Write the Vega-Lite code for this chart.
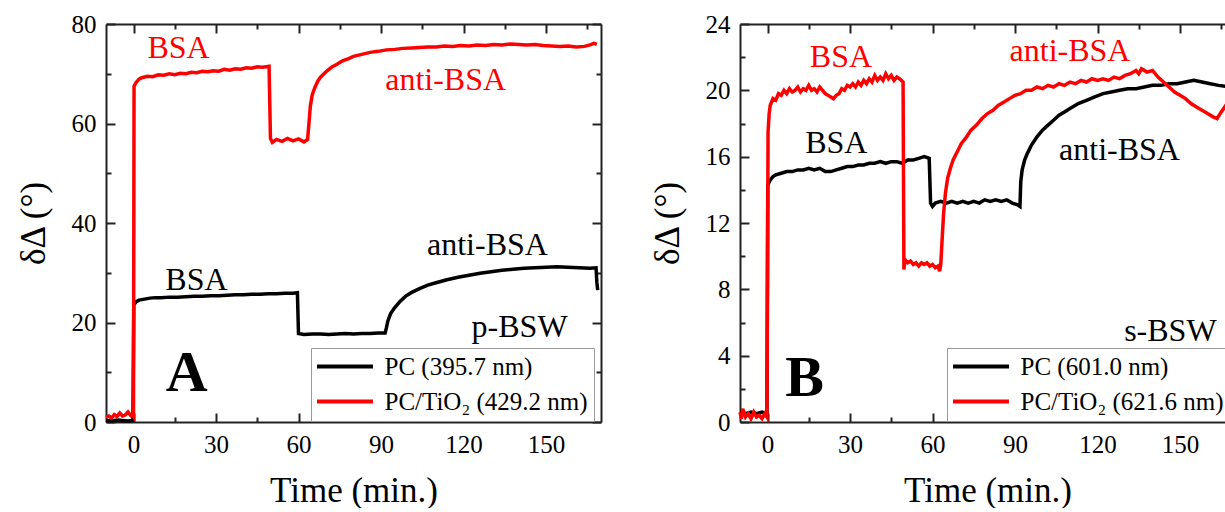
{
 "$schema": "https://vega.github.io/schema/vega-lite/v6.json",
 "background": "white",
 "padding": {"left": 16, "top": 12, "right": 0, "bottom": 0},
 "spacing": 45,
 "config": {
  "font": "Liberation Serif, Times New Roman, serif",
  "view": {"stroke": null},
  "text": {"font": "Liberation Serif, Times New Roman, serif"},
  "axis": {"grid": false, "domainColor": "#222", "domainWidth": 2, "tickColor": "#222", "tickWidth": 2, "labelFont": "Liberation Serif, Times New Roman, serif", "labelFontSize": 25, "labelColor": "black", "titleFont": "Liberation Serif, Times New Roman, serif", "titleFontSize": 35, "titleFontWeight": "normal", "titleColor": "black", "labelFlush": false, "labelOverlap": false, "labelBound": false},
  "legend": {"labelFont": "Liberation Serif, Times New Roman, serif"}
 },
 "datasets": {
  "blackA": [{"t":-10,"v":0.3},{"t":-8,"v":0.2},{"t":-6,"v":0.4},{"t":-4,"v":0.3},{"t":-2,"v":0.2},{"t":-0.2,"v":0.3},{"t":0.1,"v":23.5},{"t":1,"v":24.2},{"t":2,"v":24.5},{"t":4,"v":24.7},{"t":6,"v":24.9},{"t":8,"v":25.0},{"t":10,"v":25.0},{"t":13,"v":25.1},{"t":16,"v":25.1},{"t":19,"v":25.2},{"t":22,"v":25.3},{"t":25,"v":25.3},{"t":28,"v":25.4},{"t":31,"v":25.4},{"t":34,"v":25.5},{"t":37,"v":25.6},{"t":40,"v":25.6},{"t":43,"v":25.7},{"t":46,"v":25.7},{"t":49,"v":25.8},{"t":52,"v":25.8},{"t":55,"v":25.9},{"t":58,"v":25.9},{"t":59.6,"v":26.0},{"t":60,"v":17.8},{"t":62,"v":17.6},{"t":65,"v":17.7},{"t":68,"v":17.7},{"t":71,"v":17.6},{"t":74,"v":17.7},{"t":77,"v":17.8},{"t":80,"v":17.7},{"t":83,"v":17.8},{"t":86,"v":17.8},{"t":89,"v":17.9},{"t":91.5,"v":17.9},{"t":92,"v":19.0},{"t":92.5,"v":20.3},{"t":93.5,"v":21.8},{"t":95,"v":23.0},{"t":97,"v":24.3},{"t":99,"v":25.3},{"t":101,"v":26.0},{"t":104,"v":26.8},{"t":107,"v":27.5},{"t":110,"v":28.0},{"t":114,"v":28.6},{"t":118,"v":29.1},{"t":122,"v":29.5},{"t":126,"v":29.9},{"t":130,"v":30.2},{"t":134,"v":30.5},{"t":138,"v":30.7},{"t":142,"v":30.9},{"t":146,"v":31.0},{"t":150,"v":31.1},{"t":154,"v":31.2},{"t":158,"v":31.1},{"t":162,"v":31.0},{"t":166,"v":30.9},{"t":168.2,"v":31.0},{"t":168.5,"v":28.0},{"t":168.8,"v":26.5}],
  "redA": [{"t":-10,"v":1.0},{"t":-9,"v":1.2},{"t":-8,"v":0.8},{"t":-7,"v":1.5},{"t":-6,"v":1.1},{"t":-5,"v":1.8},{"t":-4,"v":1.2},{"t":-3,"v":1.4},{"t":-2,"v":2.0},{"t":-1,"v":1.3},{"t":-0.3,"v":1.5},{"t":0,"v":1.2},{"t":0.2,"v":67.5},{"t":1,"v":68.3},{"t":2,"v":68.9},{"t":3,"v":69.2},{"t":5,"v":69.5},{"t":7,"v":69.4},{"t":9,"v":69.8},{"t":11,"v":69.7},{"t":13,"v":70.0},{"t":15,"v":69.8},{"t":17,"v":70.1},{"t":19,"v":70.0},{"t":21,"v":70.3},{"t":23,"v":70.2},{"t":25,"v":70.5},{"t":27,"v":70.4},{"t":29,"v":70.6},{"t":31,"v":70.5},{"t":33,"v":70.9},{"t":35,"v":70.7},{"t":37,"v":71.0},{"t":39,"v":70.9},{"t":41,"v":71.2},{"t":43,"v":71.1},{"t":45,"v":71.4},{"t":47,"v":71.3},{"t":49.3,"v":71.5},{"t":49.8,"v":57.0},{"t":50.5,"v":56.2},{"t":52,"v":56.8},{"t":54,"v":56.4},{"t":56,"v":57.0},{"t":58,"v":56.5},{"t":60,"v":56.9},{"t":62,"v":56.3},{"t":63.3,"v":56.8},{"t":63.8,"v":60.0},{"t":64.3,"v":63.5},{"t":65,"v":65.8},{"t":66,"v":67.3},{"t":67,"v":68.5},{"t":68,"v":69.3},{"t":70,"v":70.4},{"t":72,"v":71.3},{"t":74,"v":71.9},{"t":76,"v":72.6},{"t":78,"v":73.0},{"t":80,"v":73.5},{"t":83,"v":73.9},{"t":86,"v":74.3},{"t":89,"v":74.5},{"t":92,"v":74.8},{"t":95,"v":74.9},{"t":98,"v":75.1},{"t":101,"v":75.2},{"t":104,"v":75.3},{"t":107,"v":75.4},{"t":110,"v":75.4},{"t":113,"v":75.6},{"t":116,"v":75.5},{"t":119,"v":75.7},{"t":122,"v":75.6},{"t":125,"v":75.8},{"t":128,"v":75.7},{"t":131,"v":75.9},{"t":134,"v":75.8},{"t":137,"v":76.0},{"t":140,"v":75.9},{"t":143,"v":75.8},{"t":146,"v":75.9},{"t":149,"v":75.7},{"t":152,"v":75.6},{"t":155,"v":75.5},{"t":158,"v":75.6},{"t":161,"v":75.4},{"t":164,"v":75.5},{"t":166,"v":75.8},{"t":167.5,"v":76.1},{"t":168.5,"v":75.9}],
  "labelsA": [{"t":16.4,"v":75.2,"label":"BSA","c":"#ff0000"},{"t":113.5,"v":68.7,"label":"anti-BSA","c":"#ff0000"},{"t":22.9,"v":28.5,"label":"BSA","c":"black"},{"t":128.7,"v":35.6,"label":"anti-BSA","c":"black"},{"t":140.4,"v":19.1,"label":"p-BSW","c":"black"}],
  "letterA": [{"t":19.3,"v":9.6,"label":"A"}],
  "blackB": [{"t":-10,"v":0.6},{"t":-8,"v":0.5},{"t":-6,"v":0.6},{"t":-4,"v":0.5},{"t":-2,"v":0.6},{"t":-0.2,"v":0.5},{"t":0.1,"v":14.3},{"t":1,"v":14.6},{"t":2,"v":14.8},{"t":3,"v":14.9},{"t":5,"v":15.0},{"t":7,"v":15.1},{"t":9,"v":15.1},{"t":11,"v":15.2},{"t":13,"v":15.2},{"t":15,"v":15.3},{"t":17,"v":15.2},{"t":19,"v":15.3},{"t":21,"v":15.1},{"t":23,"v":15.1},{"t":25,"v":15.2},{"t":27,"v":15.3},{"t":29,"v":15.4},{"t":31,"v":15.4},{"t":33,"v":15.5},{"t":35,"v":15.5},{"t":37,"v":15.6},{"t":39,"v":15.6},{"t":41,"v":15.7},{"t":43,"v":15.6},{"t":45,"v":15.7},{"t":47,"v":15.7},{"t":49,"v":15.6},{"t":51,"v":15.8},{"t":53,"v":15.8},{"t":55,"v":15.9},{"t":57,"v":16.0},{"t":58.8,"v":15.9},{"t":59.3,"v":13.2},{"t":60,"v":13.0},{"t":61,"v":13.2},{"t":63,"v":13.3},{"t":65,"v":13.2},{"t":67,"v":13.3},{"t":69,"v":13.2},{"t":71,"v":13.3},{"t":73,"v":13.2},{"t":75,"v":13.3},{"t":77,"v":13.2},{"t":79,"v":13.4},{"t":81,"v":13.3},{"t":83,"v":13.4},{"t":85,"v":13.3},{"t":87,"v":13.4},{"t":89,"v":13.2},{"t":91,"v":13.1},{"t":91.8,"v":13.0},{"t":92.1,"v":14.5},{"t":92.6,"v":15.2},{"t":93.5,"v":15.8},{"t":94.5,"v":16.2},{"t":96,"v":16.7},{"t":98,"v":17.2},{"t":100,"v":17.6},{"t":102,"v":17.9},{"t":104,"v":18.2},{"t":106,"v":18.5},{"t":108,"v":18.7},{"t":110,"v":18.9},{"t":113,"v":19.2},{"t":116,"v":19.4},{"t":119,"v":19.6},{"t":122,"v":19.8},{"t":125,"v":19.9},{"t":128,"v":20.0},{"t":131,"v":20.1},{"t":134,"v":20.1},{"t":137,"v":20.2},{"t":140,"v":20.3},{"t":143,"v":20.3},{"t":146,"v":20.4},{"t":149,"v":20.4},{"t":152,"v":20.5},{"t":155,"v":20.6},{"t":158,"v":20.5},{"t":161,"v":20.4},{"t":164,"v":20.3},{"t":168,"v":20.2}],
  "redB": [{"t":-10,"v":0.6},{"t":-9.5,"v":0.2},{"t":-9,"v":0.8},{"t":-8,"v":0.3},{"t":-7,"v":0.5},{"t":-6,"v":0.2},{"t":-5,"v":0.6},{"t":-4,"v":0.3},{"t":-3,"v":0.4},{"t":-2,"v":0.2},{"t":-1,"v":0.5},{"t":-0.2,"v":0.3},{"t":0.2,"v":17.5},{"t":0.6,"v":18.6},{"t":1,"v":19.1},{"t":2,"v":19.5},{"t":3,"v":19.4},{"t":4,"v":19.8},{"t":5,"v":19.7},{"t":6,"v":20.0},{"t":7,"v":19.8},{"t":8,"v":20.1},{"t":9,"v":19.9},{"t":10,"v":20.0},{"t":11,"v":20.2},{"t":12,"v":19.9},{"t":13,"v":20.1},{"t":14,"v":20.0},{"t":15,"v":20.3},{"t":16,"v":20.0},{"t":17,"v":20.1},{"t":18,"v":19.9},{"t":19,"v":20.2},{"t":20,"v":20.0},{"t":21,"v":19.8},{"t":22,"v":19.7},{"t":23,"v":19.6},{"t":24,"v":19.5},{"t":25,"v":19.7},{"t":26,"v":19.8},{"t":27,"v":20.1},{"t":28,"v":20.0},{"t":29,"v":20.3},{"t":30,"v":20.2},{"t":31,"v":20.4},{"t":32,"v":20.2},{"t":33,"v":20.5},{"t":34,"v":20.3},{"t":35,"v":20.6},{"t":36,"v":20.4},{"t":37,"v":20.7},{"t":38,"v":20.5},{"t":39,"v":20.9},{"t":40,"v":20.6},{"t":41,"v":20.8},{"t":42,"v":20.6},{"t":43,"v":21.0},{"t":44,"v":20.7},{"t":45,"v":20.9},{"t":46,"v":20.6},{"t":47,"v":20.8},{"t":48,"v":20.7},{"t":49.3,"v":20.5},{"t":49.6,"v":9.2},{"t":50,"v":9.8},{"t":51,"v":9.6},{"t":52,"v":9.7},{"t":53,"v":9.5},{"t":54,"v":9.6},{"t":55,"v":9.4},{"t":56,"v":9.6},{"t":57,"v":9.5},{"t":58,"v":9.6},{"t":59,"v":9.4},{"t":60,"v":9.5},{"t":61,"v":9.3},{"t":62,"v":9.4},{"t":62.6,"v":9.1},{"t":63,"v":9.5},{"t":63.5,"v":11.0},{"t":64,"v":12.5},{"t":64.7,"v":13.8},{"t":65.5,"v":14.7},{"t":66.5,"v":15.3},{"t":67.5,"v":15.8},{"t":69,"v":16.3},{"t":70.5,"v":16.8},{"t":72,"v":17.1},{"t":74,"v":17.6},{"t":76,"v":17.9},{"t":78,"v":18.3},{"t":80,"v":18.6},{"t":82,"v":18.8},{"t":84,"v":19.1},{"t":86,"v":19.3},{"t":88,"v":19.5},{"t":90,"v":19.7},{"t":92,"v":19.8},{"t":94,"v":20.0},{"t":96,"v":20.0},{"t":98,"v":20.2},{"t":100,"v":20.1},{"t":102,"v":20.3},{"t":104,"v":20.2},{"t":106,"v":20.4},{"t":108,"v":20.3},{"t":110,"v":20.5},{"t":112,"v":20.4},{"t":114,"v":20.6},{"t":116,"v":20.5},{"t":118,"v":20.7},{"t":120,"v":20.6},{"t":122,"v":20.7},{"t":124,"v":20.6},{"t":126,"v":20.8},{"t":128,"v":20.7},{"t":130,"v":20.9},{"t":132,"v":21.0},{"t":134,"v":21.2},{"t":135,"v":21.0},{"t":136,"v":21.3},{"t":138,"v":21.1},{"t":140,"v":21.2},{"t":141,"v":21.0},{"t":142,"v":20.8},{"t":144,"v":20.5},{"t":146,"v":20.2},{"t":148,"v":19.9},{"t":150,"v":19.7},{"t":152,"v":19.5},{"t":154,"v":19.2},{"t":156,"v":19.0},{"t":158,"v":18.8},{"t":160,"v":18.6},{"t":162,"v":18.4},{"t":163.5,"v":18.3},{"t":165,"v":18.7},{"t":168,"v":19.4}],
  "labelsB": [{"t":26.7,"v":22.0,"label":"BSA","c":"#ff0000"},{"t":110,"v":22.4,"label":"anti-BSA","c":"#ff0000"},{"t":25,"v":16.8,"label":"BSA","c":"black"},{"t":128,"v":16.4,"label":"anti-BSA","c":"black"},{"t":146.5,"v":5.5,"label":"s-BSW","c":"black"}],
  "letterB": [{"t":13.5,"v":2.6,"label":"B"}]
 },
 "hconcat": [
  {
   "width": 495, "height": 398,
   "layer": [
    {"data": {"name": "blackA"}, "mark": {"type": "line", "strokeWidth": 3.5},
     "encoding": {
      "x": {"field": "t", "type": "quantitative", "scale": {"domain": [-10, 170], "nice": false, "zero": false},
            "axis": {"orient": "bottom", "values": [0,15,30,45,60,75,90,105,120,135,150,165], "labelExpr": "datum.value % 30 === 0 ? datum.label : ''", "tickSize": {"condition": {"test": "datum.value % 30 === 0", "value": -9}, "value": -5}, "labelPadding": 19, "title": "Time (min.)", "titlePadding": 12}},
      "y": {"field": "v", "type": "quantitative", "scale": {"domain": [0, 80], "nice": false},
            "axis": {"orient": "left", "values": [0,10,20,30,40,50,60,70,80], "labelExpr": "datum.value % 20 === 0 ? datum.label : ''", "tickSize": {"condition": {"test": "datum.value % 20 === 0", "value": -9}, "value": -5}, "labelPadding": 19, "title": "δΔ (°)", "titlePadding": 20}},
      "color": {"datum": "PC (395.7 nm)", "type": "nominal", "scale": {"domain": ["PC (395.7 nm)", "PC/TiO₂ (429.2 nm)"], "range": ["black", "#ff0000"]},
                "legend": {"orient": "none", "legendX": 205, "legendY": 324, "title": null, "symbolType": "M-4,0H4", "symbolSize": 196, "symbolStrokeWidth": 4, "symbolOffset": 15.5, "labelOffset": 27, "labelFontSize": 25, "labelFont": "Liberation Serif, Times New Roman, serif", "labelColor": "black", "labelLimit": 400, "strokeColor": "#999", "fillColor": "white", "padding": 6, "rowPadding": 9, "cornerRadius": 0}}
     }},
    {"data": {"name": "redA"}, "mark": {"type": "line", "strokeWidth": 3.5},
     "encoding": {
      "x": {"field": "t", "type": "quantitative", "scale": {"domain": [-10, 170], "nice": false, "zero": false}, "axis": null},
      "y": {"field": "v", "type": "quantitative", "scale": {"domain": [0, 80], "nice": false}, "axis": null},
      "color": {"datum": "PC/TiO₂ (429.2 nm)", "type": "nominal"}
     }},
    {"data": {"name": "labelsA"}, "mark": {"type": "text", "fontSize": 32, "font": "Liberation Serif, Times New Roman, serif", "baseline": "middle"},
     "encoding": {
      "x": {"field": "t", "type": "quantitative", "scale": {"domain": [-10, 170], "nice": false, "zero": false},
            "axis": {"orient": "top", "values": [0,15,30,45,60,75,90,105,120,135,150,165], "labels": false, "title": null, "tickSize": {"condition": {"test": "datum.value % 30 === 0", "value": -9}, "value": -5}}},
      "y": {"field": "v", "type": "quantitative", "scale": {"domain": [0, 80], "nice": false},
            "axis": {"orient": "right", "values": [0,10,20,30,40,50,60,70,80], "labels": false, "title": null, "tickSize": {"condition": {"test": "datum.value % 20 === 0", "value": -9}, "value": -5}}},
      "text": {"field": "label"},
      "fill": {"field": "c", "type": "nominal", "scale": null}
     }},
    {"data": {"name": "letterA"}, "mark": {"type": "text", "fontSize": 58, "fontWeight": "bold", "font": "Liberation Serif, Times New Roman, serif", "baseline": "middle", "color": "black"},
     "encoding": {
      "x": {"field": "t", "type": "quantitative", "scale": {"domain": [-10, 170], "nice": false, "zero": false}, "axis": null},
      "y": {"field": "v", "type": "quantitative", "scale": {"domain": [0, 80], "nice": false}, "axis": null},
      "text": {"field": "label"}
     }}
   ],
   "resolve": {"axis": {"x": "independent", "y": "independent"}}
  },
  {
   "width": 495, "height": 398,
   "layer": [
    {"data": {"name": "blackB"}, "mark": {"type": "line", "strokeWidth": 3.5},
     "encoding": {
      "x": {"field": "t", "type": "quantitative", "scale": {"domain": [-10, 170], "nice": false, "zero": false},
            "axis": {"orient": "bottom", "values": [0,15,30,45,60,75,90,105,120,135,150,165], "labelExpr": "datum.value % 30 === 0 ? datum.label : ''", "tickSize": {"condition": {"test": "datum.value % 30 === 0", "value": -9}, "value": -5}, "labelPadding": 19, "title": "Time (min.)", "titlePadding": 12}},
      "y": {"field": "v", "type": "quantitative", "scale": {"domain": [0, 24], "nice": false},
            "axis": {"orient": "left", "values": [0,2,4,6,8,10,12,14,16,18,20,22,24], "labelExpr": "datum.value % 4 === 0 ? datum.label : ''", "tickSize": {"condition": {"test": "datum.value % 4 === 0", "value": -9}, "value": -5}, "labelPadding": 19, "title": "δΔ (°)", "titlePadding": 20}},
      "color": {"datum": "PC (601.0 nm)", "type": "nominal", "scale": {"domain": ["PC (601.0 nm)", "PC/TiO₂ (621.6 nm)"], "range": ["black", "#ff0000"]},
                "legend": {"orient": "none", "legendX": 207, "legendY": 324, "title": null, "symbolType": "M-4,0H4", "symbolSize": 196, "symbolStrokeWidth": 4, "symbolOffset": 15.5, "labelOffset": 27, "labelFontSize": 25, "labelFont": "Liberation Serif, Times New Roman, serif", "labelColor": "black", "labelLimit": 400, "strokeColor": "#999", "fillColor": "white", "padding": 6, "rowPadding": 9, "cornerRadius": 0}}
     }},
    {"data": {"name": "redB"}, "mark": {"type": "line", "strokeWidth": 3.5},
     "encoding": {
      "x": {"field": "t", "type": "quantitative", "scale": {"domain": [-10, 170], "nice": false, "zero": false}, "axis": null},
      "y": {"field": "v", "type": "quantitative", "scale": {"domain": [0, 24], "nice": false}, "axis": null},
      "color": {"datum": "PC/TiO₂ (621.6 nm)", "type": "nominal"}
     }},
    {"data": {"name": "labelsB"}, "mark": {"type": "text", "fontSize": 32, "font": "Liberation Serif, Times New Roman, serif", "baseline": "middle"},
     "encoding": {
      "x": {"field": "t", "type": "quantitative", "scale": {"domain": [-10, 170], "nice": false, "zero": false},
            "axis": {"orient": "top", "values": [0,15,30,45,60,75,90,105,120,135,150,165], "labels": false, "title": null, "tickSize": {"condition": {"test": "datum.value % 30 === 0", "value": -9}, "value": -5}}},
      "y": {"field": "v", "type": "quantitative", "scale": {"domain": [0, 24], "nice": false},
            "axis": {"orient": "right", "values": [0,2,4,6,8,10,12,14,16,18,20,22,24], "labels": false, "title": null, "tickSize": {"condition": {"test": "datum.value % 4 === 0", "value": -9}, "value": -5}}},
      "text": {"field": "label"},
      "fill": {"field": "c", "type": "nominal", "scale": null}
     }},
    {"data": {"name": "letterB"}, "mark": {"type": "text", "fontSize": 58, "fontWeight": "bold", "font": "Liberation Serif, Times New Roman, serif", "baseline": "middle", "color": "black"},
     "encoding": {
      "x": {"field": "t", "type": "quantitative", "scale": {"domain": [-10, 170], "nice": false, "zero": false}, "axis": null},
      "y": {"field": "v", "type": "quantitative", "scale": {"domain": [0, 24], "nice": false}, "axis": null},
      "text": {"field": "label"}
     }}
   ],
   "resolve": {"axis": {"x": "independent", "y": "independent"}}
  }
 ],
 "resolve": {"scale": {"color": "independent"}, "legend": {"color": "independent"}}
}
